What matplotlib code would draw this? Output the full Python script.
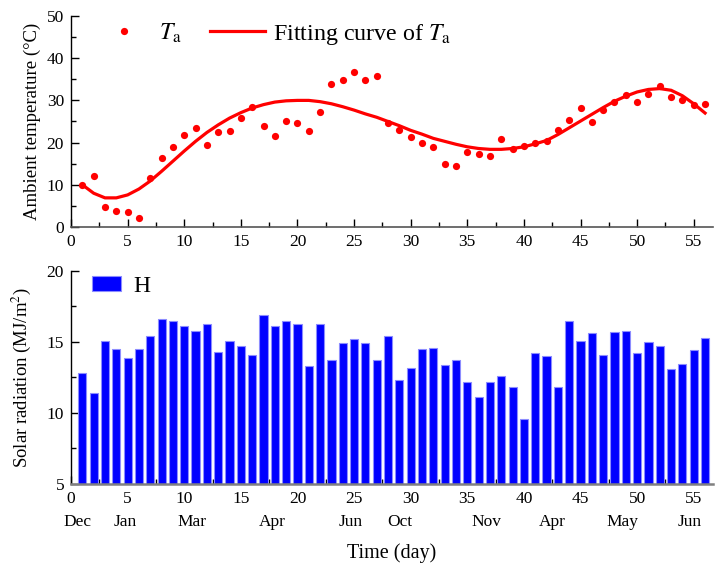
import matplotlib
matplotlib.use("Agg")
import matplotlib.pyplot as plt
from matplotlib.lines import Line2D
from matplotlib.patches import Patch
from matplotlib.ticker import MultipleLocator
import matplotlib.transforms as mtransforms

plt.rcParams['font.family'] = ['Liberation Serif', 'DejaVu Serif']
plt.rcParams['mathtext.fontset'] = 'stix'

# Daily ambient temperature (°C)
days = list(range(1, 57))
ta = [10.0, 12.2, 4.8, 3.8, 3.6, 2.2, 11.6, 16.4, 19.0, 21.7,
      23.4, 19.5, 22.4, 22.7, 25.8, 28.4, 24.0, 21.6, 25.0, 24.7,
      22.7, 27.3, 34.0, 34.8, 36.8, 34.8, 35.7, 24.7, 23.0, 21.4,
      19.8, 19.0, 14.9, 14.5, 17.7, 17.4, 16.8, 20.8, 18.5, 19.2,
      19.8, 20.3, 23.1, 25.3, 28.3, 24.9, 27.7, 29.6, 31.2, 29.6,
      31.4, 33.3, 30.8, 30.1, 29.0, 29.2]

# Fitting curve of Ta, sampled at each day
ta_fit = [10.0, 8.0, 6.9, 6.9, 7.6, 9.0, 10.9, 13.2, 15.6, 18.0,
          20.3, 22.4, 24.2, 25.8, 27.1, 28.2, 29.0, 29.6, 29.9, 30.0,
          30.0, 29.7, 29.2, 28.5, 27.7, 26.8, 26.0, 25.0, 24.0, 22.9,
          22.0, 21.0, 20.3, 19.6, 19.0, 18.6, 18.4, 18.4, 18.6, 19.0,
          19.7, 20.5, 21.9, 23.5, 25.1, 26.7, 28.3, 29.8, 31.0, 32.0,
          32.6, 32.8, 32.4, 31.1, 29.2, 27.0]

# Daily solar radiation H (MJ/m^2)
solar_h = [12.8, 11.4, 15.1, 14.5, 13.9, 14.5, 15.4, 16.6, 16.5, 16.1,
           15.8, 16.3, 14.3, 15.1, 14.7, 14.1, 16.9, 16.1, 16.5, 16.3,
           13.3, 16.3, 13.7, 14.9, 15.2, 14.9, 13.75, 15.4, 12.3, 13.2,
           14.5, 14.6, 13.35, 13.7, 12.15, 11.1, 12.2, 12.6, 11.8, 9.55,
           14.2, 14.0, 11.8, 16.5, 15.1, 15.6, 14.1, 15.7, 15.8, 14.2,
           15.0, 14.7, 13.1, 13.45, 14.45, 15.25]

month_labels = ['Dec', 'Jan', 'Mar', 'Apr', 'Jun', 'Oct', 'Nov', 'Apr', 'May', 'Jun']
month_pos = [0.6, 4.8, 10.7, 17.8, 24.7, 29.0, 36.7, 42.5, 48.7, 54.6]

fig = plt.figure(figsize=(7.16, 5.70), dpi=100)
ax1 = fig.add_axes([0.0992, 0.6018, 0.8966, 0.3701])
ax2 = fig.add_axes([0.0992, 0.1509, 0.8966, 0.3737])

RED = '#ff0000'
BLUE = '#0000ff'

# --- ambient temperature panel ---
ax1.plot(days, ta_fit, color=RED, lw=2.3, zorder=2)
ax1.plot(days, ta, 'o', color=RED, ms=5.2, mec='none', zorder=3)
ax1.set_xlim(0, 56.7)
ax1.set_ylim(0, 50)
ax1.set_ylabel('Ambient temperature (°C)', fontsize=13.5, labelpad=4)

# --- solar radiation panel ---
ax2.bar(days, solar_h, width=0.72, color=BLUE, edgecolor='#8c8cff',
        linewidth=0.8, zorder=2)
ax2.set_xlim(0, 56.7)
ax2.set_ylim(5, 20)
ax2.set_ylabel('Solar radiation (MJ/m$^2$)', fontsize=13.5, labelpad=10)
ax2.set_xlabel('Time (day)', fontsize=14.5, labelpad=26)

for ax in (ax1, ax2):
    for side in ('top', 'right'):
        ax.spines[side].set_visible(False)
    ax.spines['left'].set_linewidth(1.0)
    ax.xaxis.set_major_locator(MultipleLocator(5))
    ax.xaxis.set_minor_locator(MultipleLocator(2.5))
    ax.tick_params(which='both', direction='in', labelsize=12.5, width=1.0)
    ax.tick_params(which='major', length=6, pad=5)
    ax.tick_params(which='minor', length=3.5)

ax1.yaxis.set_major_locator(MultipleLocator(10))
ax1.yaxis.set_minor_locator(MultipleLocator(5))
ax1.spines['bottom'].set_color('#555555')
ax1.spines['bottom'].set_linewidth(1.2)
ax2.yaxis.set_major_locator(MultipleLocator(5))
ax2.yaxis.set_minor_locator(MultipleLocator(2.5))
ax2.spines['bottom'].set_color('#808080')
ax2.spines['bottom'].set_linewidth(1.8)
ax2.spines['bottom'].set_zorder(3)

# month names under the day numbers
trans = mtransforms.blended_transform_factory(ax2.transData, ax2.transAxes)
for name, pos in zip(month_labels, month_pos):
    ax2.text(pos, -0.18, name, transform=trans, ha='center', va='center',
             fontsize=12.5)

# legends
h1 = [Line2D([], [], ls='none', marker='o', color=RED, ms=5.2, mec='none'),
      Line2D([], [], color=RED, lw=2.3)]
ax1.legend(h1, [r'$T_{\rm a}$', r'Fitting curve of $T_{\rm a}$'], ncol=2,
           loc='upper left', bbox_to_anchor=(0.0055, 1.075), frameon=False,
           fontsize=17.3, handlelength=2.29, columnspacing=1.17,
           handletextpad=0.33)

h2 = [Patch(facecolor=BLUE, edgecolor='#8c8cff', linewidth=0.8)]
ax2.legend(h2, ['H'], loc='upper left', bbox_to_anchor=(-0.0005, 1.077),
           frameon=False, fontsize=17, handlelength=1.25, handleheight=0.55,
           handletextpad=0.5)

fig.savefig('out.png', dpi=100)
